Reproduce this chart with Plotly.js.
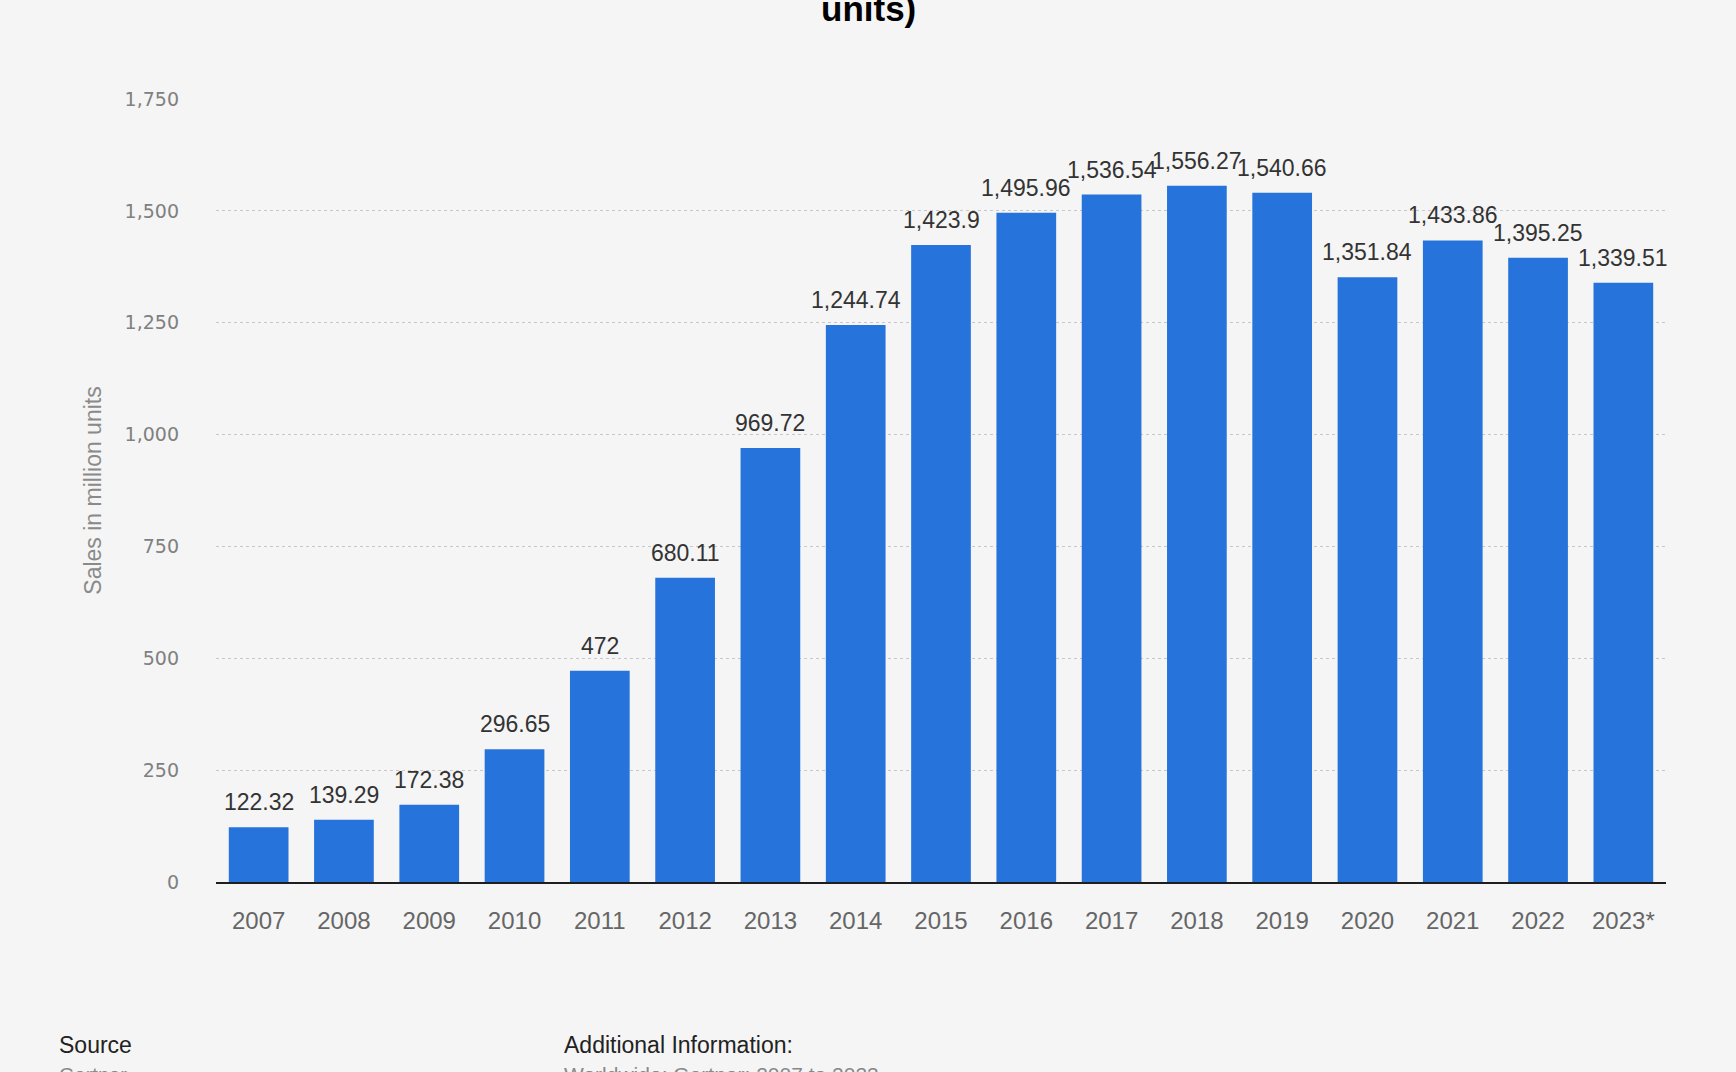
<!DOCTYPE html>
<html>
<head>
<meta charset="utf-8">
<script src="https://cdn.plot.ly/plotly-3.0.1.min.js"></script>
<style>
  html, body { margin: 0; padding: 0; background: #f5f5f5; }
  #chart { width: 1736px; height: 1072px; }
</style>
</head>
<body>
<div id="chart"></div>
<script>
const years = ["2007","2008","2009","2010","2011","2012","2013","2014","2015","2016","2017","2018","2019","2020","2021","2022","2023*"];
const sales = [122.32,139.29,172.38,296.65,472,680.11,969.72,1244.74,1423.9,1495.96,1536.54,1556.27,1540.66,1351.84,1433.86,1395.25,1339.51];
const yTicks = [0,250,500,750,1000,1250,1500,1750];
const titleText = "units)";
const yTitle = "Sales in million units";
const sourceHead = "Source";
const sourceText = "Gartner";
const infoHead = "Additional Information:";
const infoText = "Worldwide; Gartner; 2007 to 2023";

const fmt = v => v.toLocaleString("en-US", {maximumFractionDigits: 2});

const labelAnnotations = years.map((yr, i) => ({
  x: i, y: sales[i], xref: "x", yref: "y",
  text: fmt(sales[i]), showarrow: false,
  yanchor: "bottom", yshift: 10,
  font: {family: "Liberation Sans, Arial, sans-serif", size: 23, color: "#333333"}
}));

const pageAnnotations = [
  {text: titleText, xref: "paper", yref: "paper", x: 0.4497, y: 1.115, yanchor: "middle", showarrow: false,
   font: {family: "Liberation Sans, Arial, sans-serif", size: 35, color: "#000000", weight: "bold"}},
  {text: sourceHead, xref: "paper", yref: "paper", x: -0.110, y: -0.208, xanchor: "left", yanchor: "middle", showarrow: false,
   font: {family: "Liberation Sans, Arial, sans-serif", size: 23, color: "#222222"}},
  {text: sourceText, xref: "paper", yref: "paper", x: -0.110, y: -0.246, xanchor: "left", yanchor: "middle", showarrow: false,
   font: {family: "Liberation Sans, Arial, sans-serif", size: 20, color: "#888888"}},
  {text: infoHead, xref: "paper", yref: "paper", x: 0.2386, y: -0.208, xanchor: "left", yanchor: "middle", showarrow: false,
   font: {family: "Liberation Sans, Arial, sans-serif", size: 23, color: "#222222"}},
  {text: infoText, xref: "paper", yref: "paper", x: 0.2386, y: -0.246, xanchor: "left", yanchor: "middle", showarrow: false,
   font: {family: "Liberation Sans, Arial, sans-serif", size: 21, color: "#888888"}}
];

const trace = {
  type: "bar",
  x: years,
  y: sales,
  marker: {color: "#2674db"},
  hoverinfo: "x+y"
};

const layout = {
  width: 1736, height: 1072,
  paper_bgcolor: "#f5f5f5",
  plot_bgcolor: "#f5f5f5",
  margin: {l: 216, r: 70, t: 99, b: 190, pad: 0},
  bargap: 0.3,
  showlegend: false,
  xaxis: {
    type: "category",
    range: [-0.5, years.length - 0.5],
    autorange: false,
    showgrid: false,
    showline: true, linecolor: "#1e1e1e", linewidth: 2,
    ticks: "", ticklabelstandoff: 16,
    tickfont: {family: "Liberation Sans, Arial, sans-serif", size: 24, color: "#666666"},
    zeroline: false
  },
  yaxis: {
    range: [0, 1750],
    autorange: false,
    tickvals: yTicks,
    tickformat: ",",
    showgrid: true, gridcolor: "#c8c8c8", gridwidth: 1, griddash: "dot",
    zeroline: false, showline: false,
    ticks: "", ticklabelstandoff: 36,
    tickfont: {family: "DejaVu Sans, Verdana, sans-serif", size: 19, color: "#808080"},
    title: {text: yTitle, standoff: 16,
            font: {family: "Liberation Sans, Arial, sans-serif", size: 23, color: "#8a8a8a"}}
  },
  annotations: labelAnnotations.concat(pageAnnotations)
};

Plotly.newPlot("chart", [trace], layout, {displayModeBar: false, staticPlot: true});
</script>
</body>
</html>
